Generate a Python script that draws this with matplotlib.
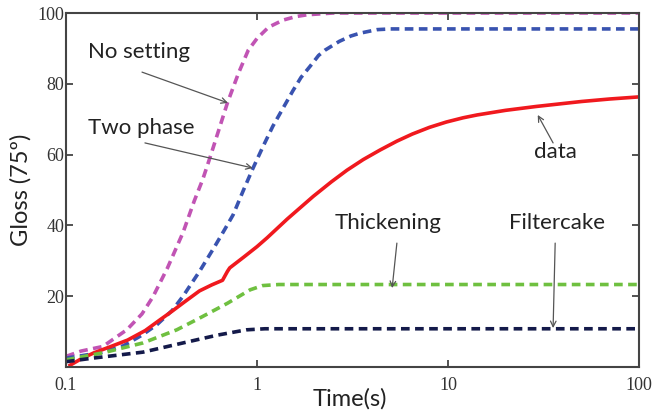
import matplotlib
matplotlib.use("Agg")
import matplotlib.pyplot as plt

# Gloss development curves, time in seconds (log scale)
t_nosetting = [0.1, 0.12, 0.156, 0.208, 0.25, 0.285, 0.34, 0.41, 0.47, 0.52, 0.57,
               0.7, 0.8, 0.9, 1.0, 1.15, 1.37, 1.6, 1.83, 2.5, 100]
g_nosetting = [3, 4.5, 5.8, 10.5, 15, 19.8, 28, 38, 47, 53, 59.5,
               74.6, 83, 89.5, 92.8, 96, 98, 99, 99.5, 100, 100]

t_twophase = [0.1, 0.15, 0.2, 0.25, 0.3, 0.36, 0.41, 0.5, 0.6, 0.68, 0.75, 0.85,
              0.95, 1.08, 1.21, 1.54, 1.7, 1.9, 2.1, 2.27, 2.7, 3.1, 3.46, 4.25, 5, 100]
g_twophase = [2.5, 4, 6, 9, 12, 16, 20, 27, 34, 39, 43, 50,
              56, 62.5, 68, 78, 81.8, 85, 88, 89.5, 92, 93.5, 94.3, 95.3, 95.5, 95.5]

t_data = [0.105, 0.12, 0.14, 0.17, 0.21, 0.26, 0.31, 0.36, 0.42, 0.5, 0.58, 0.66,
          0.7, 0.72, 0.85, 1.0, 1.13, 1.44, 1.97, 2.45, 2.96, 3.6, 4.41, 5.4,
          6.5, 8.0, 9.8, 12, 14.2, 20, 29, 50, 70, 100]
g_data = [0.5, 2.3, 4, 5.7, 7.6, 10.3, 13.3, 15.8, 18.5, 21.5, 23.2, 24.5,
          27, 28, 31, 34, 36.5, 41.8, 48.2, 52.3, 55.6, 58.6, 61.3, 63.8,
          65.8, 67.7, 69.2, 70.4, 71.2, 72.5, 73.6, 75, 75.7, 76.3]

t_thick = [0.1, 0.156, 0.253, 0.38, 0.5, 0.7, 0.92, 1.07, 1.3, 100]
g_thick = [2, 4, 6.8, 10.5, 13.8, 18, 21.8, 23, 23.3, 23.3]

t_filter = [0.1, 0.138, 0.253, 0.41, 0.62, 0.88, 1.1, 100]
g_filter = [1.5, 2.5, 4.2, 6.8, 9, 10.5, 10.8, 10.8]

xticks = [0.1, 1, 10, 100]
xtick_labels = ["0.1", "1", "10", "100"]
yticks = [20, 40, 60, 80, 100]

fig = plt.figure(figsize=(6.58, 4.11), dpi=100)
ax = fig.add_axes([66 / 658, 44 / 411, 573 / 658, 354 / 411])

dash = (0, (2.4, 1.5))
ax.plot(t_nosetting, g_nosetting, color="#c154b4", lw=2.6, linestyle=dash)
ax.plot(t_twophase, g_twophase, color="#3953b0", lw=2.6, linestyle=dash)
ax.plot(t_data, g_data, color="#f0191e", lw=2.6)
ax.plot(t_thick, g_thick, color="#6fc040", lw=2.6, linestyle=dash)
ax.plot(t_filter, g_filter, color="#141a4a", lw=2.6, linestyle=dash)

ax.set_xscale("log")
ax.set_xlim(0.1, 100)
ax.set_ylim(0, 100)
ax.set_xticks(xticks)
ax.set_xticklabels(xtick_labels)
ax.set_yticks(yticks)
ax.minorticks_off()

for s in ax.spines.values():
    s.set_color("#444444")
    s.set_linewidth(1.5)
ax.tick_params(direction="in", length=5, width=1.3, color="#444444",
               top=True, right=True, labelsize=13)
ax.tick_params(axis="x", pad=7)
ax.tick_params(axis="y", pad=1)
for lab in ax.get_xticklabels() + ax.get_yticklabels():
    lab.set_fontfamily("Liberation Serif")
    lab.set_color("#333333")

lbl = dict(family="Lato", fontsize=17, color="#222222")
ax.set_xlabel("Time(s)", **lbl)
ax.set_ylabel("Gloss (75º)", **lbl)
ax.xaxis.set_label_coords(284 / 573, -21 / 354)
ax.yaxis.set_label_coords(-34 / 573, 0.5)

arrow = dict(arrowstyle="->", color="#555555", lw=0.9, shrinkA=0, shrinkB=0)
txt = dict(family="Lato", fontsize=16, color="#222222", ha="center", va="center")
ax.annotate("", xy=(0.705, 74.6), xytext=(0.25, 83.3), arrowprops=arrow)
ax.text(0.241, 89, "No setting", **txt)
ax.annotate("", xy=(0.95, 56.2), xytext=(0.259, 63.3), arrowprops=arrow)
ax.text(0.247, 67.5, "Two phase", **txt)
ax.annotate("", xy=(29.5, 71.2), xytext=(35.5, 63.3), arrowprops=arrow)
ax.text(36.3, 60.7, "data", **txt)
ax.annotate("", xy=(5.1, 22.3), xytext=(5.4, 35), arrowprops=arrow)
ax.text(4.85, 40.7, "Thickening", **txt)
ax.annotate("", xy=(35.5, 11), xytext=(36.4, 35), arrowprops=arrow)
ax.text(37.3, 40.7, "Filtercake", **txt)

fig.savefig("out.png", dpi=100)
